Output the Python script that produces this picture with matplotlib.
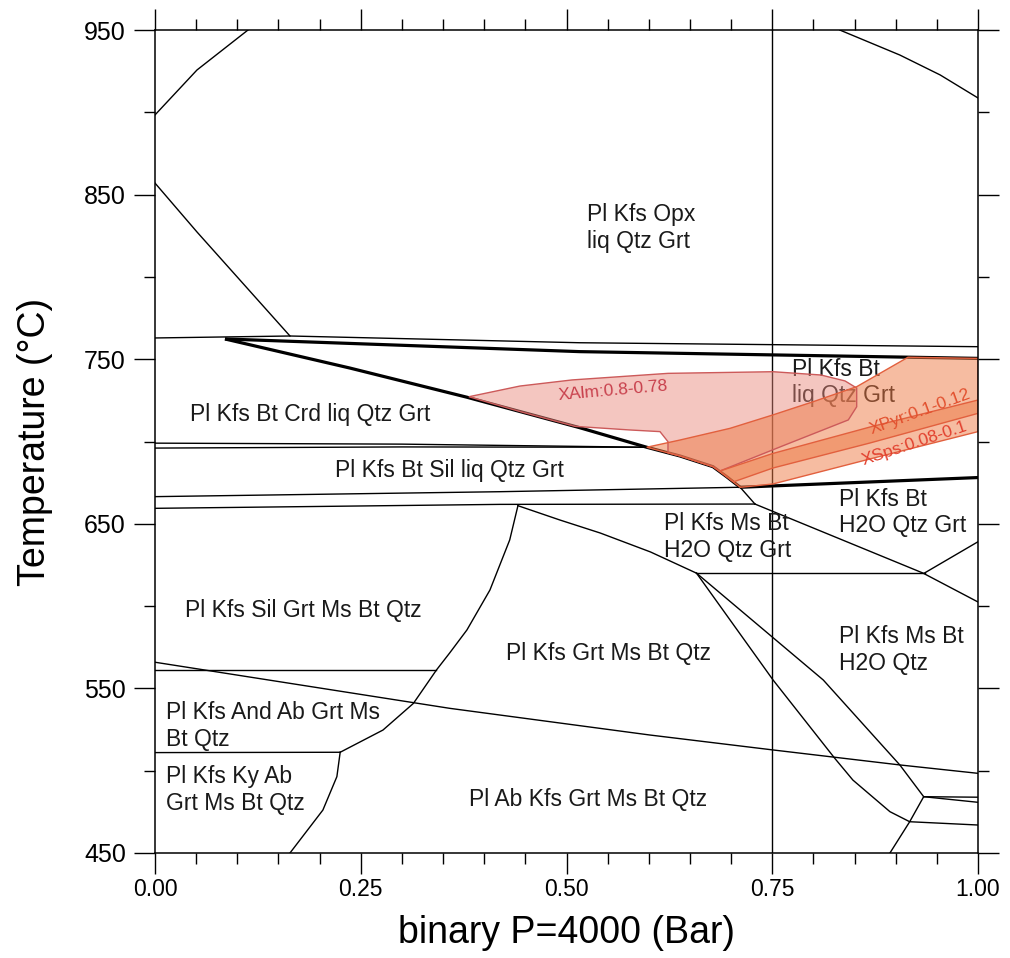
import matplotlib
matplotlib.use("Agg")
import matplotlib.pyplot as plt
from matplotlib.ticker import MultipleLocator, FixedLocator

plt.rcParams['font.family'] = ['Liberation Sans', 'DejaVu Sans']

# ---- phase boundaries (x = binary fraction, T in degC) ----
top_left_x = [0.0, 0.051, 0.113]
top_left_T = [898.4, 925.7, 950.0]
top_right_x = [0.832, 0.905, 0.954, 1.0]
top_right_T = [950.0, 934.8, 922.7, 908.7]
opx_out_x = [0.0, 0.051, 0.164]
opx_out_T = [857.0, 827.3, 764.1]
liq_thin_x = [0.0, 0.164, 0.516, 1.0]
liq_thin_T = [762.9, 764.1, 760.0, 757.6]
crd_a_x = [0.0, 0.3, 0.5975]
crd_a_T = [699.0, 698.4, 696.5]
crd_b_x = [0.0, 0.3, 0.5975]
crd_b_T = [696.0, 696.7, 696.5]
h2o_thin_x = [0.0, 0.419, 0.711]
h2o_thin_T = [666.5, 669.5, 672.2]
short_x = [0.711, 0.729]
short_T = [672.2, 662.0]
sil_ms_x = [0.0, 0.419, 0.729]
sil_ms_T = [659.4, 661.8, 662.0]
ms_right_x = [0.729, 0.933, 1.0]
ms_right_T = [662.0, 620.1, 602.5]
h620_x = [0.658, 0.936]
h620_T = [620.0, 620.0]
up_right_x = [0.935, 1.0]
up_right_T = [620.1, 639.1]
sil_and_x = [0.441, 0.431, 0.407, 0.379, 0.358, 0.342, 0.314, 0.277, 0.225]
sil_and_T = [661.0, 640.2, 609.8, 585.5, 571.5, 561.2, 540.9, 524.7, 511.2]
and_ky_x = [0.225, 0.221, 0.204, 0.164]
and_ky_T = [511.2, 496.4, 476.1, 450.0]
grt_x = [0.441, 0.492, 0.541, 0.602, 0.658]
grt_T = [661.0, 652.3, 644.4, 632.9, 620.0]
h561_x = [0.0, 0.342]
h561_T = [561.2, 561.2]
h511_x = [0.0, 0.225]
h511_T = [511.0, 511.2]
ab_x = [0.0, 0.358, 0.601, 0.751, 0.905, 1.0]
ab_T = [565.9, 537.9, 521.7, 512.6, 503.5, 498.4]
steep_x = [0.658, 0.751, 0.826, 0.848, 0.893, 0.917, 1.0]
steep_T = [620.0, 555.1, 507.5, 494.3, 475.1, 469.0, 467.0]
other_x = [0.658, 0.812, 0.905, 0.934]
other_T = [620.0, 555.1, 503.5, 484.2]
r1_x = [0.934, 1.0]
r1_T = [484.2, 483.9]
r2_x = [0.934, 1.0]
r2_T = [484.2, 480.8]
down_x = [0.934, 0.917, 0.893]
down_T = [484.2, 469.0, 450.0]
section_x = [0.75, 0.75]
section_T = [450.0, 950.0]

thick_upper_x = [0.085, 0.516, 1.0]
thick_upper_T = [762.3, 754.6, 750.5]
thick_diag_x = [0.085, 0.237, 0.379, 0.516, 0.5975, 0.6379, 0.678, 0.6946, 0.711]
thick_diag_T = [762.3, 744.6, 726.9, 708.4, 696.5, 691.2, 684.7, 678.6, 672.2]
solidus_x = [0.711, 1.0]
solidus_T = [672.2, 678.1]

# ---- garnet isopleth fields ----
alm_x = [0.3814, 0.4435, 0.5067, 0.6233, 0.7509, 0.8092, 0.8384, 0.8526, 0.8526,
         0.8424, 0.7655, 0.686, 0.678, 0.6379, 0.6233, 0.6233, 0.6136, 0.5772,
         0.5103, 0.4435]
alm_T = [727.2, 733.7, 737.4, 741.4, 742.4, 740.4, 736.8, 732.5, 721.1,
         713.1, 697.9, 682.0, 684.7, 691.2, 693.1, 699.9, 706.0, 707.0,
         709.2, 718.2]
pyr_x = [0.5975, 0.6379, 0.6987, 0.7505, 0.7999, 0.8526, 0.915, 1.0, 1.0,
         0.8688, 0.7509, 0.703, 0.6946, 0.678, 0.6379]
pyr_T = [696.5, 700.9, 708.0, 716.1, 724.2, 733.3, 751.2, 750.5, 717.1,
         699.1, 683.9, 675.5, 678.6, 684.7, 691.2]
sps_x = [0.686, 0.7505, 0.8688, 1.0, 1.0, 0.8688, 0.7509, 0.714, 0.711, 0.6946]
sps_T = [682.0, 692.7, 708.8, 725.2, 706.0, 689.4, 674.2, 672.3, 672.2, 678.6]

# ---- field labels ----
field_labels = ["Pl Kfs Opx\nliq Qtz Grt", "Pl Kfs Bt Crd liq Qtz Grt",
                "Pl Kfs Bt Sil liq Qtz Grt", "Pl Kfs Bt\nliq Qtz Grt",
                "Pl Kfs Bt\nH2O Qtz Grt", "Pl Kfs Ms Bt\nH2O Qtz Grt",
                "Pl Kfs Ms Bt\nH2O Qtz", "Pl Kfs Sil Grt Ms Bt Qtz",
                "Pl Kfs Grt Ms Bt Qtz", "Pl Kfs And Ab Grt Ms\nBt Qtz",
                "Pl Kfs Ky Ab\nGrt Ms Bt Qtz", "Pl Ab Kfs Grt Ms Bt Qtz"]
label_x = [0.525, 0.0425, 0.2187, 0.774, 0.831, 0.618, 0.831, 0.0365, 0.427,
           0.0134, 0.0134, 0.381]
label_T = [829.7, 716.1, 682.3, 735.8, 656.9, 642.0, 573.3, 597.6, 571.3,
           527.0, 488.3, 482.2]

iso_labels = ["XAlm:0.8-0.78", "XPyr:0.1-0.12", "XSps:0.08-0.1"]
iso_x = [0.556, 0.929, 0.923]
iso_T = [730.7, 718.1, 698.9]
iso_rot = [5, 20, 18.5]
iso_colors = ['#c8404c', '#e2502e', '#e2402e']

y_major = [450, 550, 650, 750, 850, 950]
y_minor = [500, 600, 700, 800, 900]

fig = plt.figure(figsize=(10.1, 9.58), dpi=100)
ax = fig.add_axes([155 / 1010, 1 - 853 / 958, 823 / 1010, 823 / 958])

thin = [(top_left_x, top_left_T), (top_right_x, top_right_T), (opx_out_x, opx_out_T),
        (liq_thin_x, liq_thin_T), (crd_a_x, crd_a_T), (crd_b_x, crd_b_T),
        (h2o_thin_x, h2o_thin_T), (short_x, short_T), (sil_ms_x, sil_ms_T),
        (ms_right_x, ms_right_T), (h620_x, h620_T), (up_right_x, up_right_T),
        (sil_and_x, sil_and_T), (and_ky_x, and_ky_T), (grt_x, grt_T),
        (h561_x, h561_T), (h511_x, h511_T), (ab_x, ab_T), (steep_x, steep_T),
        (other_x, other_T), (r1_x, r1_T), (r2_x, r2_T), (down_x, down_T),
        (section_x, section_T)]
for xs, ts in thin:
    ax.plot(xs, ts, color='black', lw=1.0, zorder=1)

for xs, ts in [(thick_upper_x, thick_upper_T), (thick_diag_x, thick_diag_T),
               (solidus_x, solidus_T)]:
    ax.plot(xs, ts, color='black', lw=2.3, zorder=1, solid_capstyle='butt')

for txt, x, t in zip(field_labels, label_x, label_T):
    ax.text(x, t, txt, fontsize=16.5, ha='left', va='center', color='#1a1a1a',
            linespacing=1.2, zorder=1.5)

# isopleth fields: translucent fills over the boundaries and labels
ax.fill(alm_x, alm_T, facecolor='#e8877a', alpha=0.47, edgecolor='none', zorder=2)
ax.fill(alm_x, alm_T, facecolor='none', edgecolor='#cc5a5a', lw=1.0, zorder=2.5)
ax.fill(pyr_x, pyr_T, facecolor='#ee7a45', alpha=0.5, edgecolor='none', zorder=2)
ax.fill(pyr_x, pyr_T, facecolor='none', edgecolor='#e2603e', lw=1.0, zorder=2.5)
ax.fill(sps_x, sps_T, facecolor='#ee7a45', alpha=0.5, edgecolor='none', zorder=2)
ax.fill(sps_x, sps_T, facecolor='none', edgecolor='#e2603e', lw=1.0, zorder=2.5)

for txt, x, t, r, c in zip(iso_labels, iso_x, iso_T, iso_rot, iso_colors):
    ax.text(x, t, txt, fontsize=12.5, color=c, rotation=r, ha='center', va='center',
            rotation_mode='anchor', zorder=3)

ax.set_xlim(0, 1)
ax.set_ylim(450, 950)
ax.xaxis.set_major_locator(MultipleLocator(0.25))
ax.xaxis.set_minor_locator(MultipleLocator(0.05))
ax.yaxis.set_major_locator(FixedLocator(y_major))
ax.yaxis.set_minor_locator(FixedLocator(y_minor))
ax.xaxis.set_major_formatter(plt.FuncFormatter(lambda v, p: f"{v:.2f}"))
ax.tick_params(which='both', direction='out', top=True, right=True, width=1.0)
ax.tick_params(which='major', length=15)
ax.tick_params(which='minor', length=8)
ax.tick_params(axis='x', labelsize=16.5, pad=3)
ax.tick_params(axis='y', labelsize=18, pad=6)
for s in ax.spines.values():
    s.set_linewidth(1.1)

ax.set_xlabel("binary P=4000 (Bar)", fontsize=27, labelpad=10)
ax.set_ylabel("Temperature (°C)", fontsize=27, labelpad=22)

fig.savefig("out.png", dpi=100)
